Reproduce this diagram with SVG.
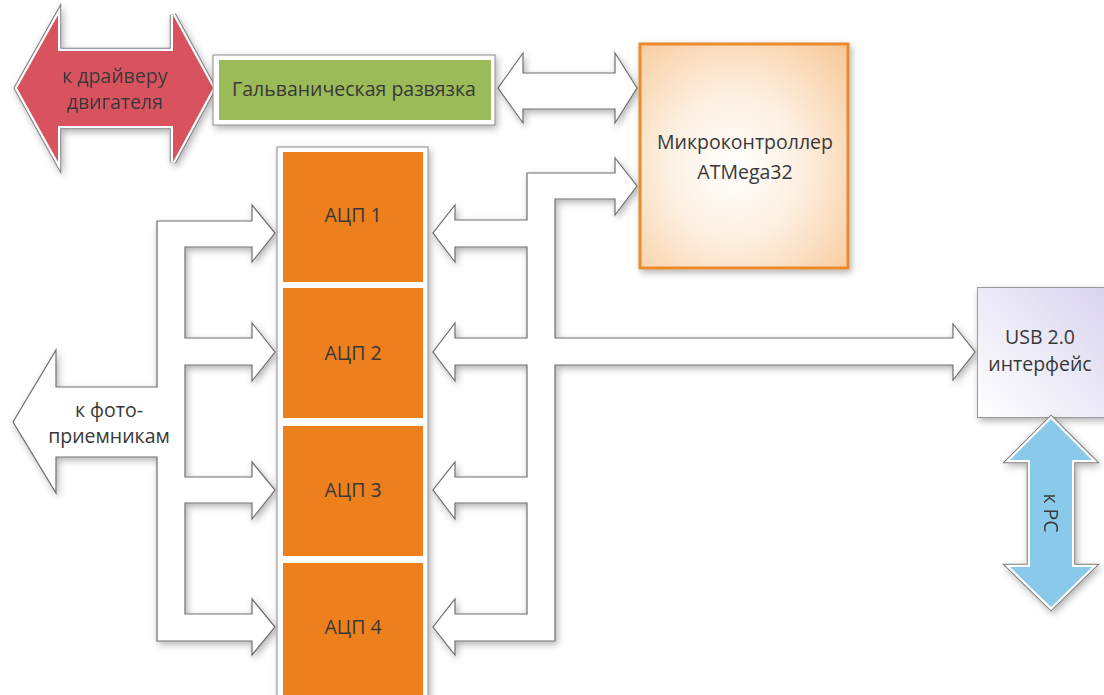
<svg xmlns="http://www.w3.org/2000/svg" width="1104" height="695" viewBox="0 0 1104 695">
  <style>
    .lbl { font-family: "Open Sans", "Noto Sans", "Liberation Sans", sans-serif; font-size: 19.5px; fill: #383838; text-anchor: middle; }
    .bus { fill: #ffffff; stroke: #6e6e6e; stroke-width: 1.2; stroke-linejoin: miter; }
    .frame { fill: #ffffff; stroke: #8a8a8a; stroke-width: 1; }
    .adc { fill: #ee7f1d; }
    .rim { fill: none; stroke: #7a7a7a; stroke-width: 6.5; stroke-linejoin: miter; }
    .rim-in { fill: none; stroke: #ffffff; stroke-width: 4.5; stroke-linejoin: miter; }
  </style>
  <defs>
    <filter id="shadow" x="-10%" y="-10%" width="130%" height="130%">
      <feDropShadow dx="2" dy="3" stdDeviation="3.5" flood-color="#000000" flood-opacity="0.3"/>
    </filter>
    <radialGradient id="mcuFill" cx="0.45" cy="0.55" r="0.8">
      <stop offset="0" stop-color="#ffffff"/>
      <stop offset="0.4" stop-color="#fdf0e2"/>
      <stop offset="1" stop-color="#f7c592"/>
    </radialGradient>
    <linearGradient id="usbFill" x1="0" y1="1" x2="1" y2="0">
      <stop offset="0" stop-color="#ffffff"/>
      <stop offset="0.5" stop-color="#eceaf7"/>
      <stop offset="1" stop-color="#d9d3ef"/>
    </linearGradient>
    <polygon id="driverShape" points="17,88 58,15 58,51 173,51 173,15 213,88 173,162 173,126 58,126 58,162"/>
    <polygon id="pcShape" points="1051,419 1092,460 1072,460 1072,567 1092,567 1051,607 1010,567 1030,567 1030,460 1010,460"/>
  </defs>

  <rect width="1104" height="695" fill="#ffffff"/>

  <!-- Bus connectors -->
  <g id="connectors">
    <polygon id="isolation-mcu" class="bus" filter="url(#shadow)"
      points="498,88 523,53 523,73 615,73 615,53 637,88 615,123 615,109 523,109 523,123"/>
    <polygon id="photo-bus" class="bus" filter="url(#shadow)"
      points="13,422 56,350 56,387 157,387 157,221 252,221 252,205 275,233 252,262 252,247 185,247 185,338 252,338 252,323 275,352 252,381 252,365 185,365 185,477 252,477 252,462 275,490 252,519 252,503 185,503 185,614 252,614 252,599 275,627 252,655 252,641 157,641 157,457 56,457 56,493"/>
    <polygon id="mcu-bus" class="bus" filter="url(#shadow)"
      points="527,173 615,173 615,158 637,186 615,215 615,199 555,199 555,338 953,338 953,324 975,352 953,380 953,365 555,365 555,641 455,641 455,655 433,627 455,599 455,614 527,614 527,503 455,503 455,519 433,490 455,462 455,477 527,477 527,365 455,365 455,381 433,352 455,323 455,338 527,338 527,247 455,247 455,262 433,233 455,205 455,220 527,220"/>
    <text class="lbl" x="109" y="417">к фото-</text>
    <text class="lbl" x="109" y="443">приемникам</text>
  </g>

  <!-- Motor driver link -->
  <g id="motor-driver" filter="url(#shadow)">
    <use href="#driverShape" class="rim"/>
    <use href="#driverShape" class="rim-in"/>
    <use href="#driverShape" fill="#d9535f"/>
    <text class="lbl" x="115" y="83">к драйверу</text>
    <text class="lbl" x="115" y="109">двигателя</text>
  </g>

  <!-- Galvanic isolation -->
  <g id="isolation">
    <rect class="frame" x="213" y="55" width="282" height="70" filter="url(#shadow)"/>
    <rect x="219" y="60" width="272" height="60" fill="#9bbb59"/>
    <text class="lbl" x="354" y="96">Гальваническая развязка</text>
  </g>

  <!-- Microcontroller -->
  <g id="mcu">
    <rect x="640" y="44" width="208" height="224" fill="url(#mcuFill)" stroke="#ea8a2c" stroke-width="3" filter="url(#shadow)"/>
    <text class="lbl" x="745" y="149">Микроконтроллер</text>
    <text class="lbl" x="745" y="179">ATMega32</text>
  </g>

  <!-- ADC column -->
  <g id="adc-column">
    <rect class="frame" x="277" y="147" width="151" height="560" filter="url(#shadow)"/>
  </g>
  <g id="adc1">
    <rect class="adc" x="283" y="152" width="140" height="130"/>
    <text class="lbl" x="353" y="222">АЦП 1</text>
  </g>
  <g id="adc2">
    <rect class="adc" x="283" y="288" width="140" height="130"/>
    <text class="lbl" x="353" y="360">АЦП 2</text>
  </g>
  <g id="adc3">
    <rect class="adc" x="283" y="426" width="140" height="130"/>
    <text class="lbl" x="353" y="497">АЦП 3</text>
  </g>
  <g id="adc4">
    <rect class="adc" x="283" y="563" width="140" height="140"/>
    <text class="lbl" x="353" y="634">АЦП 4</text>
  </g>

  <!-- USB interface -->
  <g id="usb">
    <rect x="977.5" y="287.5" width="130" height="130" fill="url(#usbFill)" stroke="#9a9a9a" stroke-width="1" filter="url(#shadow)"/>
    <text class="lbl" x="1040" y="344">USB 2.0</text>
    <text class="lbl" x="1040" y="371">интерфейс</text>
  </g>

  <!-- PC link -->
  <g id="pc-link" filter="url(#shadow)">
    <use href="#pcShape" class="rim"/>
    <use href="#pcShape" class="rim-in"/>
    <use href="#pcShape" fill="#89c9ea"/>
    <text class="lbl" x="1051" y="513" transform="rotate(90 1051 513)" dy="7">к PC</text>
  </g>
</svg>
